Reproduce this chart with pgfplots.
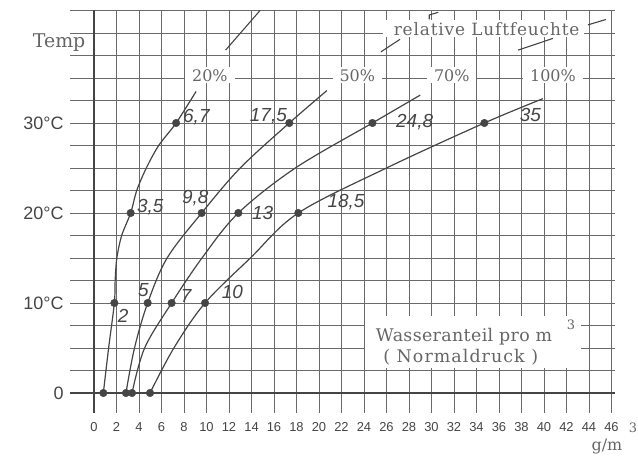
\documentclass[border=0pt]{standalone}
\usepackage{fontspec}
\usepackage{pgfplots}
\pgfplotsset{compat=1.18}
\setmainfont{DejaVu Serif}
\newfontfamily\hand{Liberation Sans}
\definecolor{ink}{HTML}{454545}
\definecolor{type}{HTML}{666666}
\definecolor{gridc}{HTML}{6A6A6A}

\begin{document}
\begin{tikzpicture}
\begin{axis}[
  x=11.25bp, y=9bp,
  xmin=-2.13, xmax=46.3, ymin=-2.2, ymax=42.5,
  axis line style={draw=none},
  major tick length=0pt, minor tick length=0pt,
  xtick={0,2,...,46},
  ytick={0,10,20,30},
  yticklabels={0,10°C,20°C,30°C},
  minor ytick={2.5,5,7.5,12.5,15,17.5,22.5,25,27.5,32.5,35,37.5,40,42.5},
  grid=both,
  major grid style={gridc, line width=0.85bp},
  minor grid style={gridc, line width=0.85bp},
  /pgf/number format/assume math mode=true,
  xticklabel style={font=\hand\fontsize{13}{14}\selectfont, text=ink, yshift=-6bp},
  yticklabel style={font=\hand\fontsize{18}{20}\selectfont, text=ink, xshift=-3bp},
  clip=false,
]
% Rahmen fuer das Bild
\coordinate (bl) at (axis cs:-8.356,-7.222);
\coordinate (tr) at (axis cs:48.356,43.667);

% Achsen (dicker)
\addplot[ink, line width=1.6bp] coordinates {(-2.13,0) (46.3,0)};
\addplot[ink, line width=1.6bp] coordinates {(0,-2.2) (0,42.5)};

% weisse Felder hinter den Beschriftungen
\fill[white] (axis cs:24.1,2.78) rectangle (axis cs:43.3,8.56);
\fill[white] (axis cs:25.7,39.6) rectangle (axis cs:43.6,41.4);

% Kurven relative Luftfeuchte: 20 %, 50 %, 70 %, 100 %
\addplot[ink, line width=1.2bp, smooth, tension=0.5] coordinates {
  (0.83,0) (1.3,5) (1.81,10) (1.88,12.5) (2.03,15) (2.46,17.5) (3.26,20)
  (3.8,22.5) (4.65,25) (5.75,27.5) (7.3,30) (9.07,33.5)};
\addplot[ink, line width=1.2bp, smooth, tension=0.55] coordinates {
  (2.84,0) (3.6,5) (4.77,10) (6.5,15) (9.57,20) (13.0,25) (17.36,30) (20.7,33.6)};
\addplot[ink, line width=1.2bp, smooth, tension=0.55] coordinates {
  (3.38,0) (4.5,5) (6.9,10) (9.6,15) (12.83,20) (17.9,25) (24.75,30) (29.0,33.1)};
\addplot[ink, line width=1.2bp, smooth, tension=0.55] coordinates {
  (4.98,0) (7.1,5) (9.87,10) (13.9,15) (18.16,20) (26.0,25) (34.7,30) (39.9,32.7)};

% Messpunkte
\addplot[only marks, mark=*, mark size=3.8bp, ink] coordinates {
  (0.83,0) (1.81,10) (3.26,20) (7.3,30)
  (2.84,0) (4.77,10) (9.57,20) (17.36,30)
  (3.38,0) (6.9,10) (12.83,20) (24.75,30)
  (4.98,0) (9.87,10) (18.16,20) (34.7,30)};

% Hinweisstriche oben
\addplot[ink, line width=1.1bp] coordinates {(11.7,38.1) (14.76,42.5)};
\addplot[ink, line width=1.1bp] coordinates {(25.5,37.9) (27.2,39.3)};
\addplot[ink, line width=1.1bp] coordinates {(29.8,41.5) (29.8,42.0) (30.6,42.3)};
\addplot[ink, line width=1.1bp] coordinates {(37.7,38.1) (40.8,39.4)};
\addplot[ink, line width=1.1bp] coordinates {(43.9,40.9) (45.5,41.5)};

% Beschriftungen (Schreibmaschine)
\node[text=type, font=\fontsize{19}{21}\selectfont] at (axis cs:-3.1,38.9) {Temp};
\node[text=type, font=\fontsize{17}{19}\selectfont\addfontfeatures{LetterSpace=5}]
  at (axis cs:34.9,40.4) {relative Luftfeuchte};
\begin{scope}[every node/.style={fill=white, text=type, inner xsep=7bp, inner ysep=2bp,
    font=\fontsize{16}{18}\selectfont}]
\node at (axis cs:10.3,35.3) {20\%};
\node at (axis cs:23.4,35.3) {50\%};
\node at (axis cs:31.8,35.3) {70\%};
\node at (axis cs:40.8,35.3) {100\%};
\end{scope}
\node[text=type, font=\fontsize{17.5}{19}\selectfont\addfontfeatures{LetterSpace=2}]
  at (axis cs:32.9,6.3) {Wasseranteil pro m};
\node[text=type, font=\fontsize{13}{15}\selectfont] at (axis cs:42.4,7.6) {3};
\node[text=type, font=\fontsize{17.5}{19}\selectfont\addfontfeatures{LetterSpace=6}]
  at (axis cs:32.6,3.97) {( Normaldruck )};
\node[text=type, font=\fontsize{16}{18}\selectfont] at (axis cs:45.6,-5.9) {g/m};
\node[text=type, font=\fontsize{13}{15}\selectfont] at (axis cs:47.9,-3.9) {3};

% Handschriftliche Werte
\begin{scope}[every node/.style={text=ink, inner sep=0pt,
    font=\hand\itshape\fontsize{19}{20}\selectfont}]
\node at (axis cs:9.1,30.7) {6,7};
\node at (axis cs:15.5,30.7) {17,5};
\node at (axis cs:28.5,30.1) {24,8};
\node at (axis cs:38.8,30.9) {35};
\node at (axis cs:5.0,20.6) {3,5};
\node at (axis cs:9.0,21.6) {9,8};
\node at (axis cs:15.0,20.0) {13};
\node at (axis cs:22.4,21.2) {18,5};
\node at (axis cs:2.6,8.6) {2};
\node at (axis cs:4.4,11.4) {5};
\node at (axis cs:8.2,10.8) {7};
\node at (axis cs:12.3,11.2) {10};
\end{scope}
\end{axis}
\pgfresetboundingbox
\useasboundingbox (bl) rectangle (tr);
\end{tikzpicture}
\end{document}
